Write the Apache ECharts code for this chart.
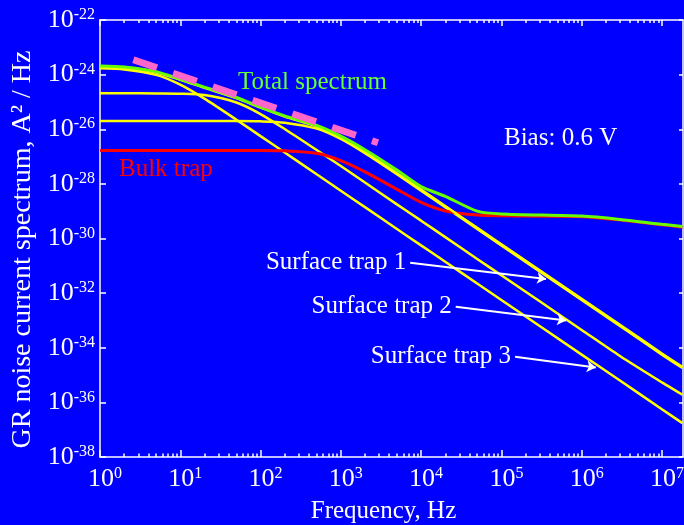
<!DOCTYPE html>
<html>
<head>
<meta charset="utf-8">
<title>GR noise spectrum</title>
<script src="https://cdn.jsdelivr.net/npm/echarts@6/dist/echarts.min.js"></script>
<style>
  html, body { margin: 0; padding: 0; background: #0000ff; }
  #main { width: 684px; height: 525px; }
</style>
</head>
<body>
<div id="main"></div>
<script>
// frequency grid, Hz
const freq = [1, 2, 5, 10, 20, 50, 100, 200, 500, 1e3, 2e3, 5e3, 1e4, 2e4, 5e4, 1e5, 1e6, 3e6, 1e7, 1.8e7];

// spectra in A^2/Hz
const trap1 = [2.0e-26, 2.0e-26, 2.0e-26, 2.0e-26, 2.0e-26, 2.0e-26, 1.95e-26, 1.74e-26, 1.05e-26, 4.4e-27,
  1.32e-27, 2.24e-28, 5.6e-29, 1.41e-29, 2.24e-30, 5.6e-31, 5.6e-33, 6.3e-34, 5.6e-35, 1.82e-35];
const trap2 = [2.09e-25, 2.09e-25, 2.04e-25, 2.0e-25, 1.78e-25, 9.5e-26, 3.6e-26, 1.02e-26, 1.74e-27, 4.5e-28,
  1.12e-28, 1.78e-29, 4.5e-30, 1.12e-30, 1.78e-31, 4.5e-32, 4.5e-34, 5.0e-35, 5.4e-36, 1.9e-36];
const trap3 = [1.70e-24, 1.55e-24, 9.8e-25, 4.3e-25, 1.32e-25, 2.24e-26, 5.6e-27, 1.41e-27, 2.24e-28, 5.6e-29,
  1.41e-29, 2.24e-30, 5.6e-31, 1.41e-31, 2.24e-32, 5.6e-33, 5.6e-35, 6.3e-36, 5.6e-37, 1.74e-37];
const surfaceSum = [1.93e-24, 1.78e-24, 1.2e-24, 6.5e-25, 3.3e-25, 1.38e-25, 6.2e-26, 2.9e-26, 1.26e-26, 4.9e-27,
  1.45e-27, 2.45e-28, 6.2e-29, 1.55e-29, 2.45e-30, 6.2e-31, 6.2e-33, 6.9e-34, 6.2e-35, 2.0e-35];
const bulk = [1.66e-27, 1.66e-27, 1.66e-27, 1.66e-27, 1.66e-27, 1.66e-27, 1.66e-27, 1.62e-27, 1.32e-27, 7.1e-28,
  2.75e-28, 6.3e-29, 2.1e-29, 1.02e-29, 7.2e-30, 6.8e-30, 6.3e-30, 4.8e-30, 3.2e-30, 2.6e-30];
const total = [2.09e-24, 1.9e-24, 1.29e-24, 6.8e-25, 3.5e-25, 1.45e-25, 6.5e-26, 3.1e-26, 1.38e-26, 5.6e-27,
  1.78e-27, 3.2e-28, 7.9e-29, 3.5e-29, 1.0e-29, 7.9e-30, 6.6e-30, 5.0e-30, 3.3e-30, 2.75e-30];

// 1/f guide (pink dashes)
const guideF = [2.6, 2900];
const guideS = [3.5e-24, 3.2e-27];

// arrows: [from f, from S, to f, to S]
const arrow1 = [7300, 1.29e-31, 3.6e5, 3.3e-32];
const arrow2 = [2.7e4, 3.2e-33, 6.4e5, 1.0e-33];
const arrow3 = [1.48e5, 4.7e-35, 1.5e6, 1.9e-35];

// ticks
const xMajor = [1, 10, 100, 1e3, 1e4, 1e5, 1e6, 1e7];
const yMajorExp = [-38, -36, -34, -32, -30, -28, -26, -24, -22];

// echarts' log axis rounds tiny tick values to 0, so the y axis works in units of 1e-38 A^2/Hz
const Y_EXP0 = -38;
const Y_UNIT = 1e38;

const xMinor = [];
xMajor.forEach(function (d) {
  for (let m = 2; m <= 9; m++) xMinor.push(m * d);
});
const yTicks = yMajorExp.map(function (e) { return Math.pow(10, e - Y_EXP0); });

const X_MIN = 1, X_MAX = 1.83e7;
const FONT = 'Liberation Serif';

function pt(f, s) { return [f, s * Y_UNIT]; }
function pairs(ys) {
  return freq.map(function (f, i) { return pt(f, ys[i]); });
}
function xLabel(v) {
  return '{b|10}{s|' + Math.round(Math.log10(v)) + '}';
}
function yLabel(v) {
  return '{b|10}{s|' + (Math.round(Math.log10(v)) + Y_EXP0) + '}';
}
const labelRich = {
  b: { fontSize: 26, fontFamily: FONT, color: '#fff' },
  s: { fontSize: 16, fontFamily: FONT, color: '#fff', verticalAlign: 'top' }
};

function arrowLine(a, text) {
  return {
    silent: true,
    symbol: ['none', 'arrow'],
    symbolSize: 9,
    lineStyle: { color: '#fff', width: 2, type: 'solid' },
    label: {
      show: true, position: 'start', distance: 4, formatter: text,
      color: '#fff', fontSize: 25, fontFamily: FONT
    },
    emphasis: { disabled: true },
    data: [[{ coord: pt(a[0], a[1]) }, { coord: pt(a[2], a[3]) }]]
  };
}

function xAx(pos, ticks, len, withLine, withLabel) {
  return {
    type: 'log', position: pos, min: X_MIN, max: X_MAX, logBase: 10,
    axisLine: { show: withLine, lineStyle: { color: '#fff', width: 1.5 } },
    axisTick: { show: true, inside: true, length: len, customValues: ticks, lineStyle: { color: '#fff', width: 1.5 } },
    axisLabel: withLabel ? {
      show: true, customValues: xMajor, formatter: xLabel, rich: labelRich, margin: 9, padding: [0, 0, 0, 10]
    } : { show: false },
    splitLine: { show: false },
    name: withLabel ? 'Frequency, Hz' : '',
    nameLocation: 'middle', nameGap: 42,
    nameTextStyle: { color: '#fff', fontSize: 25, fontFamily: FONT, padding: [0, 16, 0, 0] }
  };
}

function yAx(pos, len, withLabel) {
  return {
    type: 'log', position: pos, min: yTicks[0], max: yTicks[yTicks.length - 1], logBase: 10,
    axisLine: { show: true, lineStyle: { color: '#fff', width: 1.5 } },
    axisTick: { show: true, inside: true, length: len, customValues: yTicks, lineStyle: { color: '#fff', width: 1.5 } },
    axisLabel: withLabel ? { show: true, customValues: yTicks, formatter: yLabel, rich: labelRich, margin: 5 } : { show: false },
    splitLine: { show: false },
    name: withLabel ? 'GR noise current spectrum, A² / Hz' : '',
    nameLocation: 'middle', nameGap: 62, nameRotate: 90,
    nameTextStyle: { color: '#fff', fontSize: 28, fontFamily: FONT, padding: [0, 22, 0, 0] }
  };
}

function curve(name, ys, color, width) {
  return {
    name: name, type: 'line', data: pairs(ys), showSymbol: false, silent: true,
    smooth: 0.25, lineStyle: { color: color, width: width }
  };
}

const s1 = curve('Surface trap 1', trap1, '#ffff00', 2.5);
s1.markLine = arrowLine(arrow1, 'Surface trap 1');
const s2 = curve('Surface trap 2', trap2, '#ffff00', 2.5);
s2.markLine = arrowLine(arrow2, 'Surface trap 2');
const s3 = curve('Surface trap 3', trap3, '#ffff00', 2.5);
s3.markLine = arrowLine(arrow3, 'Surface trap 3');

const chart = echarts.init(document.getElementById('main'));
chart.setOption({
  backgroundColor: '#0000ff',
  animation: false,
  grid: { left: 100, right: 1, top: 20, bottom: 68, containLabel: false, outerBoundsMode: 'none' },
  xAxis: [
    xAx('bottom', xMajor, 7, true, true),
    xAx('bottom', xMinor, 3.5, false, false),
    xAx('top', xMajor, 6, true, false),
    xAx('top', xMinor, 3, false, false)
  ],
  yAxis: [
    yAx('left', 6, true),
    yAx('right', 4, false)
  ],
  graphic: [
    { type: 'text', left: 238, top: 70, style: { text: 'Total spectrum', fill: '#66ff33', font: '25px "Liberation Serif"' } },
    { type: 'text', left: 119, top: 157, style: { text: 'Bulk trap', fill: '#ff0000', font: '25px "Liberation Serif"' } },
    { type: 'text', left: 504, top: 126, style: { text: 'Bias: 0.6 V', fill: '#ffffff', font: '25px "Liberation Serif"' } }
  ],
  series: [
    s1, s2, s3,
    curve('Bulk trap', bulk, '#ff0000', 3),
    curve('Surface sum', surfaceSum, '#ffff00', 2.5),
    curve('Total spectrum', total, '#66ff00', 3),
    {
      name: '1/f', type: 'line', showSymbol: false, silent: true,
      data: guideF.map(function (f, i) { return pt(f, guideS[i]); }),
      lineStyle: { color: '#ff66cc', width: 7, type: [25, 17], cap: 'butt' }
    }
  ]
});
</script>
</body>
</html>
